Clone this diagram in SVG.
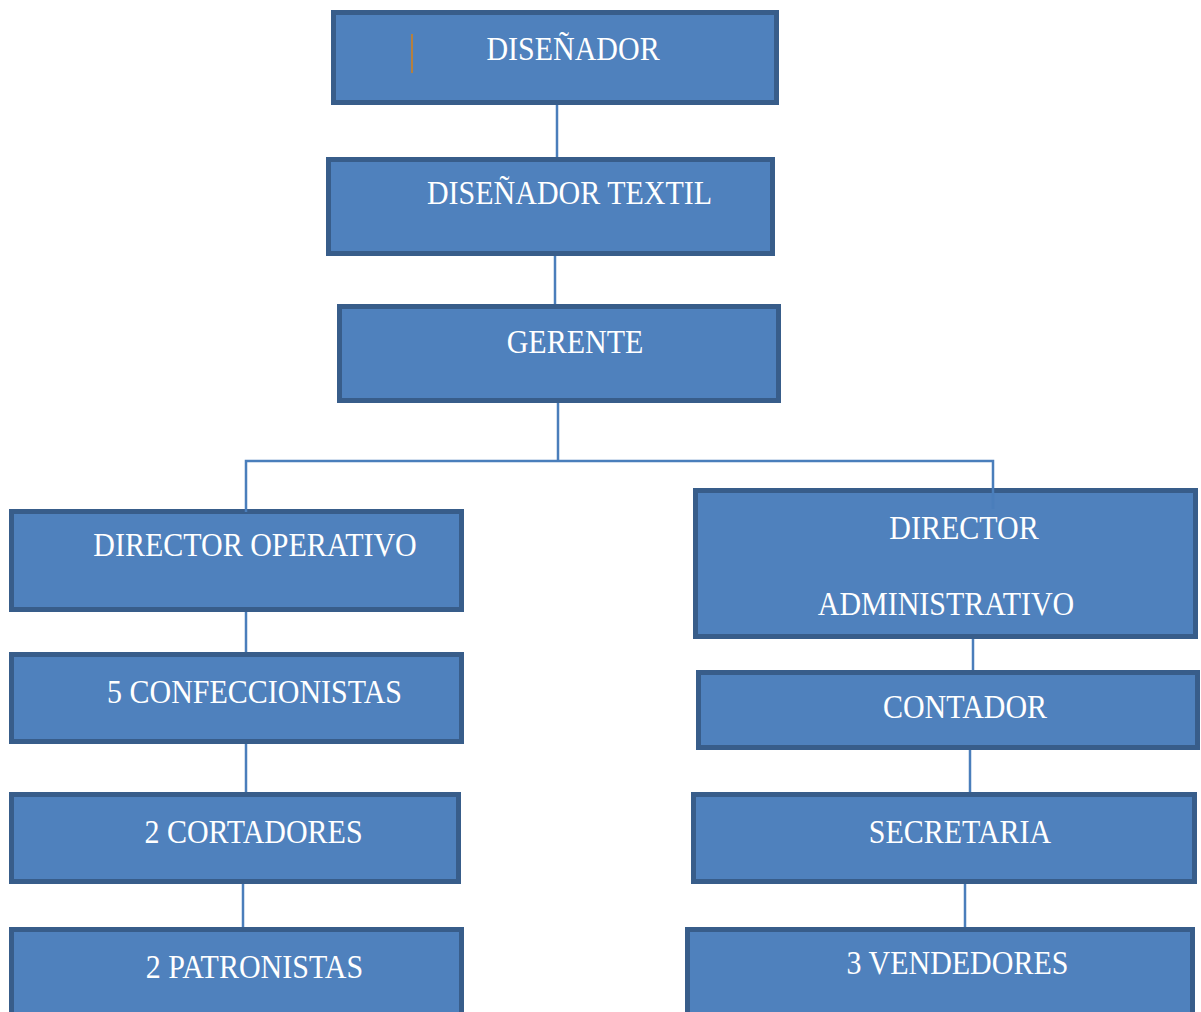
<svg xmlns="http://www.w3.org/2000/svg" width="1201" height="1012" viewBox="0 0 1201 1012">
<style>
.box{fill:#4F81BD;stroke:#385D8A;stroke-width:5}
.lbl{font-family:"Liberation Serif","Times New Roman",serif;font-size:30px;fill:#FFFFFF;text-anchor:middle}
.con{stroke:#4A7EBB;stroke-width:2.5;fill:none}
</style>
<rect width="1201" height="1012" fill="#FFFFFF"/>
<g id="n1"><rect class="box" x="333.5" y="12.5" width="443" height="90"/><line x1="412" y1="34" x2="412" y2="73" stroke="#B5803F" stroke-width="2"/><text class="lbl" transform="translate(573,60) scale(1,1.15)">DISEÑADOR</text></g>
<g id="n2"><rect class="box" x="328.5" y="159.5" width="444" height="94"/><text class="lbl" transform="translate(569.5,204) scale(1,1.15)">DISEÑADOR TEXTIL</text></g>
<g id="n3"><rect class="box" x="339.5" y="306.5" width="439" height="94"/><text class="lbl" transform="translate(575,353) scale(1,1.15)">GERENTE</text></g>
<g id="n4"><rect class="box" x="11.5" y="511.5" width="450" height="98"/><text class="lbl" transform="translate(255,556) scale(1,1.15)">DIRECTOR OPERATIVO</text></g>
<g id="n5"><rect class="box" x="695.5" y="490.5" width="500" height="146"/><text class="lbl" transform="translate(964,539) scale(1,1.15)">DIRECTOR</text><text class="lbl" transform="translate(946,615) scale(1,1.15)">ADMINISTRATIVO</text></g>
<g id="n6"><rect class="box" x="11.5" y="654.5" width="450" height="87"/><text class="lbl" transform="translate(254.5,703) scale(1,1.15)">5 CONFECCIONISTAS</text></g>
<g id="n7"><rect class="box" x="698.5" y="672.5" width="499" height="75"/><text class="lbl" transform="translate(965,718) scale(1,1.15)">CONTADOR</text></g>
<g id="n8"><rect class="box" x="11.5" y="794.5" width="447" height="87"/><text class="lbl" transform="translate(253.5,843) scale(1,1.15)">2 CORTADORES</text></g>
<g id="n9"><rect class="box" x="693.5" y="794.5" width="501" height="87"/><text class="lbl" transform="translate(960,843) scale(1,1.15)">SECRETARIA</text></g>
<g id="n10"><rect class="box" x="11.5" y="929.5" width="450" height="90"/><text class="lbl" transform="translate(254.5,978) scale(1,1.15)">2 PATRONISTAS</text></g>
<g id="n11"><rect class="box" x="687.5" y="929.5" width="505" height="90"/><text class="lbl" transform="translate(957.5,974) scale(1,1.15)">3 VENDEDORES</text></g>
<g id="connectors">
<line class="con" x1="557" y1="105" x2="557" y2="157"/>
<line class="con" x1="555" y1="256" x2="555" y2="304"/>
<line class="con" x1="558" y1="403" x2="558" y2="461" stroke="#8FB0DA"/>
<polyline class="con" points="246,512 246,461 993,461 993,509"/>
<line class="con" x1="973" y1="639" x2="973" y2="670"/>
<line class="con" x1="246" y1="612" x2="246" y2="652"/>
<line class="con" x1="246" y1="744" x2="246" y2="792"/>
<line class="con" x1="243" y1="884" x2="243" y2="927"/>
<line class="con" x1="970" y1="750" x2="970" y2="792"/>
<line class="con" x1="965" y1="884" x2="965" y2="927"/>
</g>
</svg>
